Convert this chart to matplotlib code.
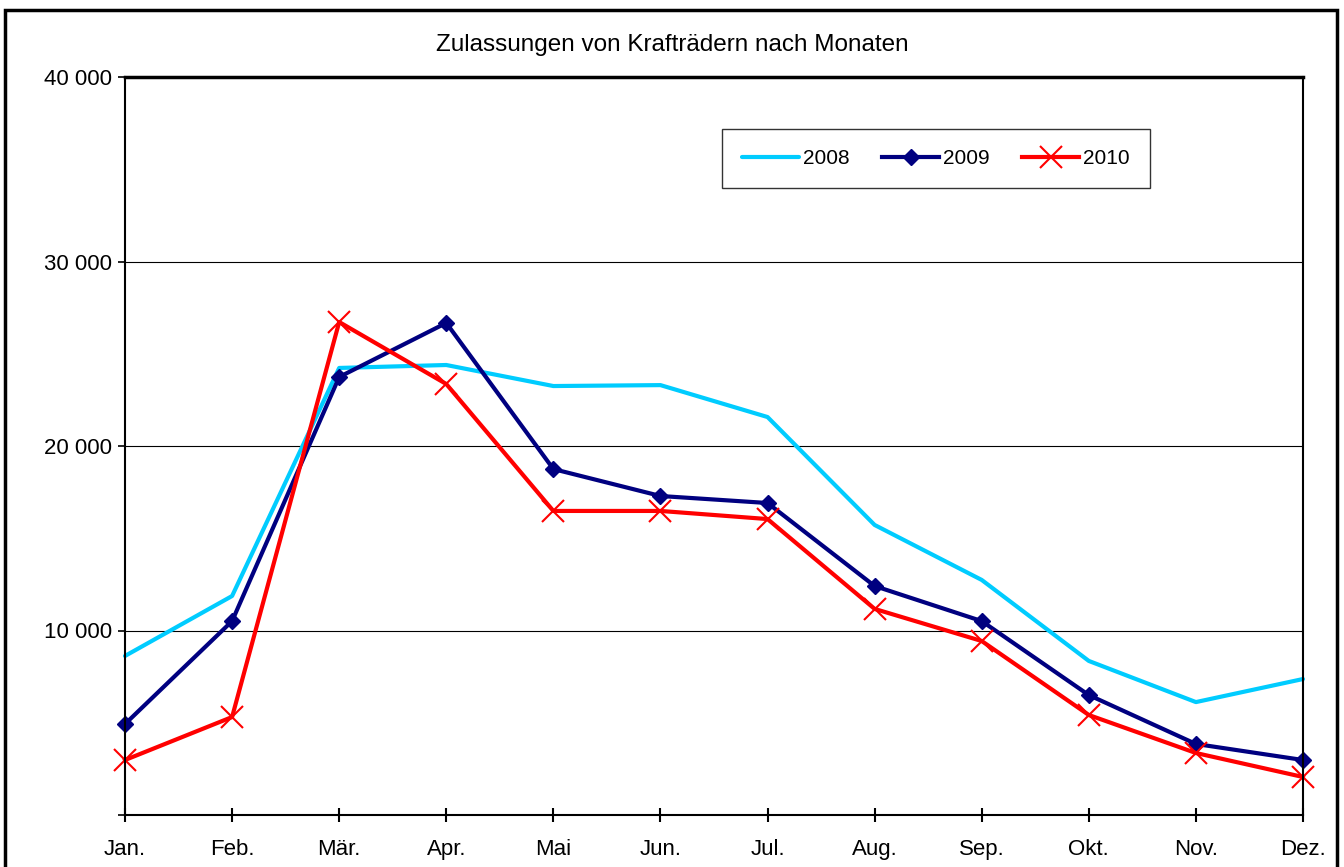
import numpy as np
import matplotlib.pyplot as plt
from matplotlib.patches import Rectangle

plt.rcParams['font.family'] = ['Liberation Sans', 'DejaVu Sans']

months = ["Jan.", "Feb.", "Mär.", "Apr.", "Mai", "Jun.", "Jul.",
          "Aug.", "Sep.", "Okt.", "Nov.", "Dez."]
y2008 = [8620, 11870, 24230, 24390, 23250, 23300, 21570,
         15720, 12740, 8350, 6120, 7370]
y2009 = [4930, 10510, 23740, 26670, 18750, 17290, 16910,
         12410, 10510, 6500, 3850, 2980]
y2010 = [2980, 5310, 26720, 23360, 16480, 16480, 16040,
         11170, 9430, 5420, 3360, 2060]
yticks = [0, 10000, 20000, 30000, 40000]
ylabels = ["", "10 000", "20 000", "30 000", "40 000"]

fig = plt.figure(figsize=(13.44, 8.67), dpi=100)
# outer frame of the chart object
fig.patches.append(Rectangle((5 / 1344, -0.05), 1332 / 1344, 1.05 - 10 / 867,
                             transform=fig.transFigure, fill=False,
                             edgecolor='black', linewidth=2.5))

ax = fig.add_axes([125 / 1344, 1 - 815 / 867, 1178 / 1344, 738 / 867])
x = np.arange(len(months))

ax.plot(x, y2008, color='#00CCFF', linewidth=3, label='2008',
        solid_capstyle='round', solid_joinstyle='round', clip_on=False)
ax.plot(x, y2009, color='#000080', linewidth=3, marker='D', markersize=8,
        label='2009', solid_joinstyle='round', clip_on=False)
ax.plot(x, y2010, color='#FF0000', linewidth=3, marker='x', markersize=16,
        markeredgewidth=1.5, label='2010', solid_joinstyle='round', clip_on=False)

ax.set_xlim(0, len(months) - 1)
ax.set_ylim(0, 40000)
ax.set_xticks(x)
ax.set_xticklabels(months, fontsize=16)
ax.set_yticks(yticks)
ax.set_yticklabels(ylabels, fontsize=16)
ax.tick_params(axis='x', direction='inout', length=10, width=1.5, pad=12)
ax.tick_params(axis='y', direction='out', length=5, width=1.2, pad=4)
ax.grid(axis='y', color='black', linewidth=0.8)
for s in ax.spines.values():
    s.set_linewidth(1.5)
ax.spines['top'].set_linewidth(2.5)

fig.text(0.5, 1 - 45 / 867, "Zulassungen von Krafträdern nach Monaten",
         fontsize=17.5, ha='center', va='center')

leg = ax.legend(loc='upper left', bbox_to_anchor=(0.507, 0.9295, 0.363, 0.0),
                mode='expand', ncol=3, fontsize=15, frameon=True, fancybox=False,
                handlelength=2.75, handletextpad=0.2, borderaxespad=0,
                borderpad=0.95, columnspacing=2.1)
leg.get_frame().set_edgecolor('black')
leg.get_frame().set_linewidth(1.0)

fig.savefig("out.png", dpi=100)
